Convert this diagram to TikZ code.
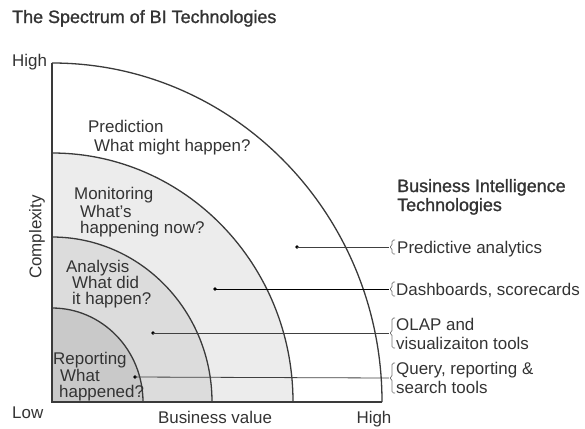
\documentclass[tikz,border=0pt]{standalone}
\usepackage{fontspec}
\usetikzlibrary{calc}
\setmainfont{Liberation Sans}
\newfontfamily\heavyfont[FakeBold=1.2]{Liberation Sans}
\definecolor{txt}{HTML}{333333}
\definecolor{edge}{HTML}{3A3A3A}
\definecolor{fillA}{HTML}{ECECEC}
\definecolor{fillB}{HTML}{DCDCDC}
\definecolor{fillC}{HTML}{C9C9C9}
\begin{document}
\begin{tikzpicture}[x=1bp,y=1bp,
  lbl/.style={inner sep=0pt, anchor=base west, text=txt, font=\fontsize{17}{18}\selectfont},
  head/.style={inner sep=0pt, anchor=base west, text=txt, font=\heavyfont\fontsize{18}{19}\selectfont},
  axis/.style={inner sep=0pt, anchor=base, text=txt, font=\fontsize{17}{18}\selectfont},
  band/.style={draw=edge, line width=1.3bp},
  dotmark/.style={circle, fill=black, inner sep=0pt, minimum size=3.6bp},
  conn/.style={draw=black!75, line width=0.8bp},
  brk/.style={draw=black!55, line width=0.7bp, rounded corners=1.5bp}
]
\useasboundingbox (0,0) rectangle (585,-428);
\coordinate (O) at (52,-402);
% bands
\fill[fillA] (O) -- ++(241,0) arc[start angle=0,end angle=90,x radius=241bp,y radius=249bp] -- cycle;
\fill[fillB] (O) -- ++(160,0) arc[start angle=0,end angle=90,x radius=160bp,y radius=165bp] -- cycle;
\fill[fillC] (O) -- ++(91,0) arc[start angle=0,end angle=90,x radius=91bp,y radius=94bp] -- cycle;
\draw[band] (O) ++(330,0) arc[start angle=0,end angle=90,x radius=330bp,y radius=339bp];
\draw[band] (O) ++(241,0) arc[start angle=0,end angle=90,x radius=241bp,y radius=249bp];
\draw[band] (O) ++(160,0) arc[start angle=0,end angle=90,x radius=160bp,y radius=165bp];
\draw[band] (O) ++(91,0) arc[start angle=0,end angle=90,x radius=91bp,y radius=94bp];
\draw[band] (52,-63) -- (O) -- (382,-402);

% title and axes
\node[head] (title) at (12,-23) {The Spectrum of BI Technologies};
\node[lbl] (yhigh) at (12,-66) {High};
\node[lbl] (ylow) at (12,-418) {Low};
\node[axis] (xname) at (215,-423) {Business value};
\node[axis] (xhigh) at (374,-423) {High};
\node[inner sep=0pt, text=txt, font=\fontsize{17}{18}\selectfont, rotate=90] (yname) at (37,-237) {Complexity};

% band labels
\node[lbl] (p1) at (88,-132) {Prediction};
\node[lbl] (p2) at (94,-151) {What might happen?};
\node[lbl] (m1) at (74,-199) {Monitoring};
\node[lbl] (m2) at (80,-217) {What’s};
\node[lbl] (m3) at (80,-233) {happening now?};
\node[lbl] (a1) at (66,-272) {Analysis};
\node[lbl] (a2) at (72,-288.5) {What did};
\node[lbl] (a3) at (72,-304) {it happen?};
\node[lbl] (r1) at (53,-364) {Reporting};
\node[lbl] (r2) at (60,-381) {What};
\node[lbl] (r3) at (59,-397) {happened?};

% right heading
\node[head] (h1) at (397,-192) {Business Intelligence};
\node[head] (h2) at (397,-211) {Technologies};

% technology labels
\node[lbl] (t1) at (397,-253) {Predictive analytics};
\node[lbl] (t2) at (396,-295) {Dashboards, scorecards};
\node[lbl] (t3a) at (396,-330) {OLAP and};
\node[lbl] (t3b) at (396,-349) {visualizaiton tools};
\node[lbl] (t4a) at (396,-374) {Query, reporting \&};
\node[lbl] (t4b) at (396,-393) {search tools};

% dots
\node[dotmark] (d1) at (297,-247) {};
\node[dotmark] (d2) at (215,-289) {};
\node[dotmark] (d3) at (153,-333) {};
\node[dotmark] (d4) at (135,-377) {};

% bracket tips
\coordinate (b1) at (389,-247);
\coordinate (b2) at (389,-289);
\coordinate (b3) at (389,-333);
\coordinate (b4) at (389,-378);

% connectors
\draw[conn] (d1.center) -- (b1);
\draw[conn, draw=black, line width=1bp] (d2.center) -- (b2);
\draw[conn] (d3.center) -- (b3);
\draw[conn] (d4.center) -- (b4);

% brackets
\draw[brk] ($(b1)+(6,7)$) -- ++(-3,0) -- ++(0,-6) -- (b1) -- ++(3,-1) -- ++(0,-6) -- ++(3,0);
\draw[brk] ($(b2)+(6,7)$) -- ++(-3,0) -- ++(0,-6) -- (b2) -- ++(3,-1) -- ++(0,-6) -- ++(3,0);
\draw[brk] ($(b3)+(6,15)$) -- ++(-3,0) -- ++(0,-14) -- (b3) -- ++(3,-1) -- ++(0,-14) -- ++(3,0);
\draw[brk] ($(b4)+(6,15)$) -- ++(-3,0) -- ++(0,-14) -- (b4) -- ++(3,-1) -- ++(0,-14) -- ++(3,0);
\end{tikzpicture}
\end{document}
